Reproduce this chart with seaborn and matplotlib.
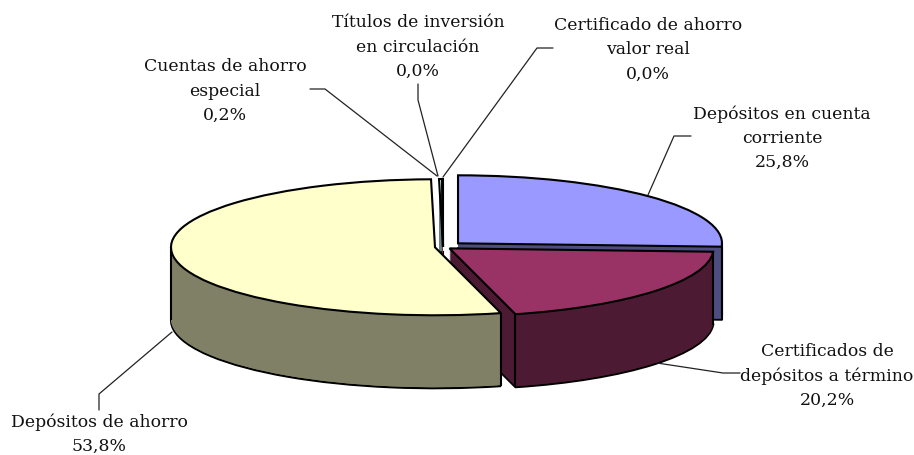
import matplotlib
matplotlib.use("Agg")
import matplotlib.pyplot as plt
import numpy as np
import seaborn as sns

categories = ["Depósitos en cuenta\ncorriente", "Certificados de\ndepósitos a término",
              "Depósitos de ahorro", "Cuentas de ahorro\nespecial",
              "Títulos de inversión\nen circulación", "Certificado de ahorro\nvalor real"]
values = [25.8, 20.2, 53.8, 0.2, 0.03, 0.01]
explode = [0.0785, 0.0318, 0.0306, 0, 0, 0]
top_colors = ["#9999FF", "#993366", "#FFFFCC", "#CCFFFF", "#660066", "#FF8080"]
side_colors = ["#4D4D80", "#4D1A33", "#808066", "#668080", "#330033", "#804040"]

W, H = 914, 455
CX, CY = 443, 247
RX, RY = 264, 68
DEPTH = 73

sns.set_theme(style="white")
plt.rcParams["font.family"] = ["DejaVu Serif"]

fig = plt.figure(figsize=(W / 100, H / 100), dpi=100)
ax = fig.add_axes([0, 0, 1, 1])


def draw_layer(idx, color, drop, edge):
    # pie with only slice idx painted, moved down by drop pixels
    colors = ["none"] * len(values)
    colors[idx] = color
    wedges, _ = ax.pie(values, colors=colors, explode=explode, startangle=90,
                       counterclock=False, center=(0, -drop / RY),
                       wedgeprops={"linewidth": 0})
    for i, w in enumerate(wedges):
        if i != idx:
            w.set_visible(False)
    if edge:
        wedges[idx].set_edgecolor("black")
        wedges[idx].set_linewidth(1.5)
    return wedges[idx]


# back to front
for idx in [0, 3, 4, 5, 1, 2]:
    draw_layer(idx, side_colors[idx], DEPTH, True)
    for drop in np.arange(DEPTH - 1, 0, -1):
        draw_layer(idx, side_colors[idx], drop, False)
    top = draw_layer(idx, top_colors[idx], 0, False)
    # vertical edges at the slice corners and at the silhouette
    angles = [top.theta1, top.theta2]
    for a in [-180, 0]:
        if top.theta1 < a < top.theta2:
            angles.append(a)
    x0, y0 = top.center
    for a in angles:
        x = x0 + np.cos(np.radians(a))
        y = y0 + np.sin(np.radians(a))
        if np.sin(np.radians(a)) < 0.1:
            ax.plot([x, x], [y, y - DEPTH / RY], color="black", lw=1.5,
                    solid_capstyle="butt")
    draw_layer(idx, top_colors[idx], 0, True)

ax.set_aspect("auto")
ax.set_xlim(-CX / RX, (W - CX) / RX)
ax.set_ylim(-(H - CY) / RY, CY / RY)
ax.axis("off")

# labels and leader lines, in picture pixels
ov = fig.add_axes([0, 0, 1, 1])
ov.set_xlim(0, W)
ov.set_ylim(H, 0)
ov.axis("off")
ov.patch.set_alpha(0)

label_pos = [(782, 138), (827, 376), (99, 434), (225, 91), (418, 47), (648, 50)]
leaders = [
    [(648, 195), (674, 136), (691, 136)],
    [(657, 363), (723, 373), (740, 373)],
    [(172, 332), (99, 394), (99, 410)],
    [(310, 89), (325, 89), (437, 176)],
    [(418, 84), (418, 100), (438, 176)],
    [(553, 48), (537, 48), (443, 177)],
]
for cat, val, pos, pts in zip(categories, values, label_pos, leaders):
    txt = f"{cat}\n{val:.1f}%".replace(".", ",")
    ov.text(pos[0], pos[1], txt, ha="center", va="center", multialignment="center",
            fontsize=12.4, linespacing=1.55, color="#111111")
    xs, ys = zip(*pts)
    ov.plot(xs, ys, color="#222222", lw=0.9)

fig.savefig("out.png", dpi=100)
